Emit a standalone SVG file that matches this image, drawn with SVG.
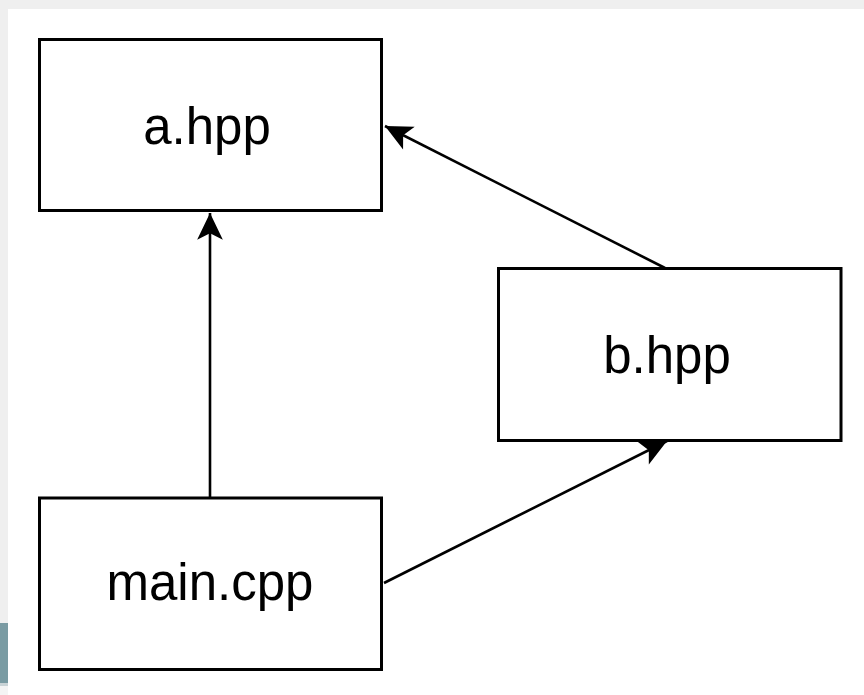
<svg xmlns="http://www.w3.org/2000/svg" width="864" height="695" viewBox="0 0 864 695">
  <style>
    .box { fill: #ffffff; stroke: #000000; stroke-width: 3; }
    .lbl { font-family: "Liberation Sans", Arial, sans-serif; font-size: 51px; fill: #000000; text-anchor: middle; }
    .edge { fill: none; stroke: #000000; stroke-width: 2.6; }
  </style>
  <defs>
    <marker id="arrow" markerUnits="userSpaceOnUse" markerWidth="30" markerHeight="30" viewBox="-26 -13 28 26" refX="0" refY="0" orient="auto">
      <path d="M0,0 L-25,-12 L-19,0 L-25,12 Z" fill="#000000"/>
    </marker>
  </defs>
  <rect x="0" y="0" width="864" height="695" fill="#ffffff"/>
  <rect x="0" y="0" width="864" height="9" fill="#efefef"/>
  <rect x="0" y="0" width="8" height="695" fill="#efefef"/>
  <rect x="0" y="623" width="8" height="60" fill="#7a9ba3"/>
  <rect x="0" y="683" width="8" height="3" fill="#c9d3d6"/>
  <rect x="0" y="686" width="8" height="9" fill="#f4f4f4"/>

  <g id="connectors">
    <path class="edge" d="M210,497 L210,213" marker-end="url(#arrow)"/>
    <path class="edge" d="M665,268 L385,126" marker-end="url(#arrow)"/>
    <path class="edge" d="M384,583 L667,441" marker-end="url(#arrow)"/>
  </g>

  <g id="a_hpp">
    <rect class="box" x="39.5" y="39.5" width="342" height="171"/>
    <text class="lbl" x="207" y="144">a.hpp</text>
  </g>
  <g id="b_hpp">
    <rect class="box" x="498.5" y="268.5" width="342.5" height="172"/>
    <text class="lbl" x="667" y="373">b.hpp</text>
  </g>
  <g id="main_cpp">
    <rect class="box" x="39.5" y="498" width="342" height="171.5"/>
    <text class="lbl" x="210" y="600">main.cpp</text>
  </g>
</svg>
